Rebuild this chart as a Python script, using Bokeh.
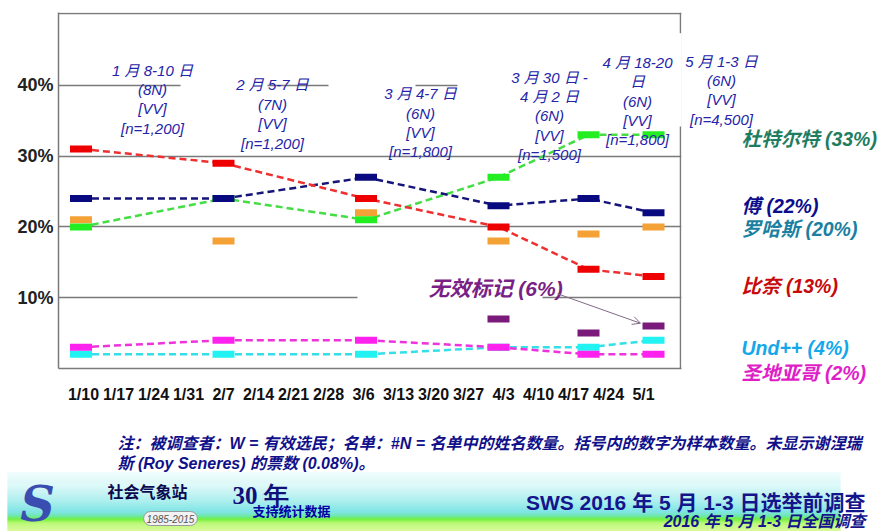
from bokeh.plotting import figure
from bokeh.layouts import row, column
from bokeh.models import Range1d, FixedTicker, Label, BoxAnnotation, Arrow, OpenHead, Span
from bokeh.embed import file_html
from bokeh.resources import INLINE

# ---------------- data ----------------
week_labels = ["1/10", "1/17", "1/24", "1/31", "2/7", "2/14", "2/21", "2/28", "3/6",
               "3/13", "3/20", "3/27", "4/3", "4/10", "4/17", "4/24", "5/1"]
week_days = [0, 7, 14, 21, 28, 35, 42, 49, 56, 63, 70, 77, 84, 91, 98, 105, 112]

survey_days = [-0.5, 28, 56.5, 83, 101, 114]
survey_notes = [
    "1 月 8-10 日\n(8N)\n[VV]\n[n=1,200]",
    "2 月 5-7 日\n(7N)\n[VV]\n[n=1,200]",
    "3 月 4-7 日\n(6N)\n[VV]\n[n=1,800]",
    "3 月 30 日 -\n4 月 2 日\n(6N)\n[VV]\n[n=1,500]",
    "4 月 18-20\n日\n(6N)\n[VV]\n[n=1,800]",
    "5 月 1-3 日\n(6N)\n[VV]\n[n=4,500]",
]

nan = float("nan")
duterte = [20, 24, 21, 27, 33, 33]
poe = [24, 24, 27, 23, 24, 22]
roxas = [21, 18, 22, 18, 19, 20]
binay = [31, 29, 24, 20, 14, 13]
invalid = [nan, nan, nan, 7, 5, 6]
und = [2, 2, 2, 3, 3, 4]
santiago = [3, 4, 4, 3, 2, 2]

y_ticks = [10, 20, 30, 40]
y_tick_labels = ["10%", "20%", "30%", "40%"]

names = ["杜特尔特", "傅", "罗哈斯", "比奈", "Und++", "圣地亚哥"]
invalid_name = "无效标记"

note_lines = ["注：被调查者：W = 有效选民；名单：#N = 名单中的姓名数量。括号内的数字为样本数量。未显示谢涅瑞",
              "斯 (Roy Seneres) 的票数 (0.08%)。"]

SANS = "Liberation Sans, Noto Sans CJK SC"
NOTE_BLUE = "#2424a8"
FRAME = "#7a7a7a"
LH = 1.14

# ---------------- helpers (page-pixel -> data position in main chart) ----------------
def dx(px):
    return (px - 83) / 5.0

def dy(py):
    return (374 - py) / 7.2

# ================= main chart =================
p = figure(width=682, height=405, x_range=Range1d(-5, dx(681)), y_range=Range1d(0, dy(12)),
           output_backend="svg", toolbar_location=None,
           min_border_left=58, min_border_right=1, min_border_top=12, min_border_bottom=32)
p.frame_align = False
p.background_fill_color = "white"
p.border_fill_color = "white"
p.outline_line_color = None

p.xgrid.visible = False
p.ygrid.ticker = FixedTicker(ticks=y_ticks)
p.ygrid.grid_line_color = FRAME
p.ygrid.grid_line_width = 1.3

p.yaxis.ticker = FixedTicker(ticks=y_ticks)
p.yaxis.major_label_overrides = dict(zip(y_ticks, y_tick_labels))
p.yaxis.axis_line_color = FRAME
p.yaxis.axis_line_width = 1.5
p.yaxis.major_tick_line_color = None
p.yaxis.major_tick_out = 0
p.yaxis.major_tick_in = 0
p.yaxis.minor_tick_line_color = None
p.yaxis.major_label_text_font = SANS
p.yaxis.major_label_text_font_size = "18px"
p.yaxis.major_label_text_font_style = "bold"
p.yaxis.major_label_text_color = "#222222"
p.yaxis.major_label_standoff = 5

p.xaxis.ticker = FixedTicker(ticks=week_days)
p.xaxis.major_label_overrides = dict(zip(week_days, week_labels))
p.xaxis.axis_line_color = FRAME
p.xaxis.axis_line_width = 1.5
p.xaxis.major_tick_line_color = None
p.xaxis.minor_tick_line_color = None
p.xaxis.major_label_text_font = SANS
p.xaxis.major_label_text_font_size = "16px"
p.xaxis.major_label_text_font_style = "bold"
p.xaxis.major_label_text_color = "#111111"
p.xaxis.major_label_standoff = 11

# top and right frame edges
p.add_layout(Span(location=dy(13), dimension="width", line_color=FRAME, line_width=1.5))
p.add_layout(Span(location=dx(680), dimension="height", line_color=FRAME, line_width=1.5))

# masks where text boxes hide grid lines / frame
for (a, b, y0, y1) in [(180, 267, 39.7, 40.3), (328, 415, 39.7, 40.3), (457, 700, 39.7, 40.3),
                       (357, 542, 9.7, 10.3), (676, 700, dy(128), dy(33))]:
    p.add_layout(BoxAnnotation(left=dx(a), right=dx(b), bottom=y0, top=y1,
                               fill_color="white", fill_alpha=1, line_color=None))

DASH = "7 4"
line_series = [
    (und, "#33e0e8"),
    (santiago, "#ee33dd"),
    (duterte, "#44dd44"),
    (poe, "#14147a"),
    (binay, "#ee3030"),
]
for vals, c in line_series:
    p.line(survey_days, vals, line_color=c, line_width=2.5, line_dash=DASH)

marker_series = [
    (und, "#22f2f2"),
    (santiago, "#ff22ee"),
    (roxas, "#f4a236"),
    (duterte, "#22ee22"),
    (poe, "#0a0a80"),
    (binay, "#ee0000"),
    (invalid, "#7a1a7a"),
]
for vals, c in marker_series:
    p.rect(x=survey_days, y=vals, width=22, height=7, width_units="screen",
           height_units="screen", fill_color=c, line_color=None)

ann_pos = [(152, 62), (272, 77), (420, 86), (549, 69), (637, 54)]
for note, (cx, ty) in zip(survey_notes[:5], ann_pos):
    p.add_layout(Label(x=dx(cx), y=dy(ty), text=note, text_align="center", text_baseline="top",
                       text_font=SANS, text_font_style="italic", text_font_size="15px",
                       text_color=NOTE_BLUE, text_line_height=LH))

p.add_layout(Label(x=dx(428), y=dy(293), text=f"{invalid_name} ({invalid[-1]:g}%)", text_align="left",
                   text_baseline="middle", text_font=SANS, text_font_style="bold italic",
                   text_font_size="21px", text_color="#7a1f86"))
p.add_layout(Arrow(x_start=dx(557), y_start=dy(298), x_end=dx(640), y_end=dy(328),
                   line_color="#806a86", line_width=1,
                   end=OpenHead(size=8, line_color="#806a86", line_width=1)))

# ================= right panel (page pixels) =================
r = figure(width=197, height=405, x_range=Range1d(682, 879), y_range=Range1d(405, 0),
           output_backend="svg", toolbar_location=None, x_axis_type=None, y_axis_type=None,
           min_border=0)
r.frame_align = False
r.outline_line_color = None
r.background_fill_color = "white"
r.border_fill_color = "white"

r.add_layout(Label(x=721, y=52, text=survey_notes[5], text_align="center", text_baseline="top",
                   text_font=SANS, text_font_style="italic", text_font_size="15px",
                   text_color=NOTE_BLUE, text_line_height=LH))

latest = [duterte[-1], poe[-1], roxas[-1], binay[-1], und[-1], santiago[-1]]
name_colors = ["#1f7d5f", "#0c0c8c", "#1a7fa0", "#c80a0a", "#14a8ea", "#e01ec8"]
name_y = [138, 205, 228, 285, 347, 372]
for n, v, c, yy in zip(names, latest, name_colors, name_y):
    r.add_layout(Label(x=741, y=yy, text=f"{n} ({v:g}%)", text_align="left",
                       text_baseline="middle", text_font=SANS,
                       text_font_style="bold italic", text_font_size="19.5px", text_color=c))

# ================= footer (page pixels) =================
f = figure(width=879, height=126, x_range=Range1d(0, 879), y_range=Range1d(531, 405),
           output_backend="svg", toolbar_location=None, x_axis_type=None, y_axis_type=None,
           min_border=0)
f.frame_align = False
f.outline_line_color = None
f.background_fill_color = "white"
f.border_fill_color = "white"

stops = [(472, (238, 252, 252)), (487, (214, 247, 247)), (500, (170, 238, 238)),
         (512, (118, 226, 226)), (516, (100, 230, 160)), (519, (106, 238, 48)),
         (523, (184, 248, 112)), (531, (216, 250, 152))]
bt, bb, bc = [], [], []
for (y0, c0), (y1, c1) in zip(stops[:-1], stops[1:]):
    steps = max(1, int(y1 - y0))
    for s in range(steps):
        t = (s + 0.5) / steps
        col = tuple(int(round(c0[j] + (c1[j] - c0[j]) * t)) for j in range(3))
        bt.append(y0 + (y1 - y0) * s / steps - 0.3)
        bb.append(y0 + (y1 - y0) * (s + 1) / steps + 0.3)
        bc.append("#%02x%02x%02x" % col)
f.quad(left=7, right=840, top=bt, bottom=bb, fill_color=bc, line_color=None)

for k, t in enumerate(note_lines):
    f.add_layout(Label(x=117, y=443 + 20 * k, text=t, text_align="left",
                       text_baseline="middle", text_font=SANS,
                       text_font_style="bold italic", text_font_size="16px", text_color="#10108a"))

f.add_layout(Label(x=37, y=503, text="S", text_align="center", text_baseline="middle",
                   text_font="DejaVu Serif", text_font_style="bold italic",
                   text_font_size="48px", text_color="#3a4db0"))
f.add_layout(Label(x=107, y=492, text="社会气象站", text_align="left", text_baseline="middle",
                   text_font=SANS, text_font_style="bold", text_font_size="16px",
                   text_color="#0a0a50"))
f.add_layout(Label(x=232, y=495, text="30 年", text_align="left", text_baseline="middle",
                   text_font="Liberation Serif", text_font_style="bold", text_font_size="25px",
                   text_color="#10107a"))
f.add_layout(Label(x=252, y=511, text="支持统计数据", text_align="left", text_baseline="middle",
                   text_font=SANS, text_font_style="bold", text_font_size="13px",
                   text_color="#0000a0"))
f.add_layout(Label(x=170, y=518, text="1985-2015", text_align="center", text_baseline="middle",
                   text_font=SANS, text_font_style="italic", text_font_size="10px",
                   text_color="#555555", background_fill_color="#f2f2f2", background_fill_alpha=1,
                   border_line_color="#999999", padding=3, border_radius=8))
f.add_layout(Label(x=865, y=502, text="SWS 2016 年 5 月 1-3 日选举前调查", text_align="right",
                   text_baseline="middle", text_font=SANS, text_font_style="bold",
                   text_font_size="21px", text_color="#14148c"))
f.add_layout(Label(x=865, y=521, text="2016 年 5 月 1-3 日全国调查", text_align="right",
                   text_baseline="middle", text_font=SANS, text_font_style="bold italic",
                   text_font_size="16px", text_color="#14148c"))

layout = column(row(p, r, spacing=0), f, spacing=0)
open("out.html", "w").write(file_html(layout, INLINE))
